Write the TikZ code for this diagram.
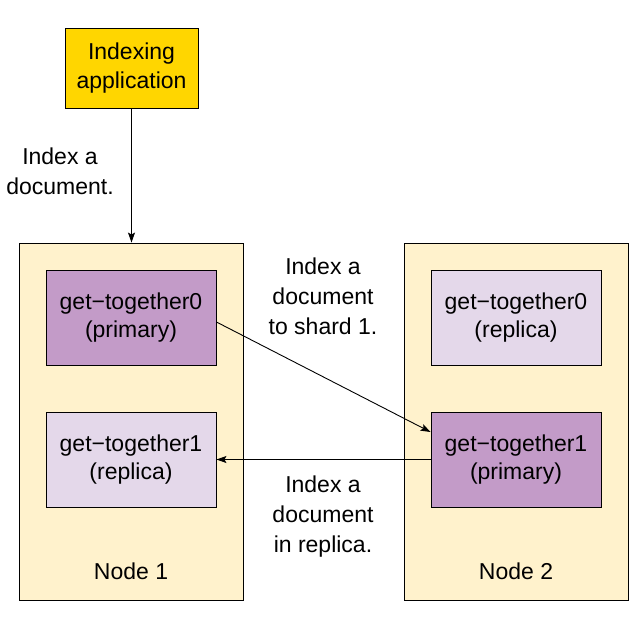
\documentclass[tikz,border=0pt]{standalone}
\usepackage{fontspec}
\setmainfont{Liberation Sans}
\usetikzlibrary{arrows.meta}
\definecolor{appyellow}{RGB}{255,214,0}
\definecolor{nodefill}{RGB}{255,242,204}
\definecolor{primfill}{RGB}{195,155,200}
\definecolor{repfill}{RGB}{228,216,234}
\tikzset{
  every node/.style={font=\fontsize{23}{27.5}\selectfont, align=center, inner sep=0pt},
  labeltext/.style={font=\fontsize{23}{30}\selectfont},
  box/.style={draw=black, line width=0.9pt},
  appbox/.style={box, fill=appyellow, minimum width=133pt, minimum height=80pt, font=\fontsize{23}{29}\selectfont},
  clusterbox/.style={box, fill=nodefill, minimum width=224pt, minimum height=357pt},
  primbox/.style={box, fill=primfill, minimum width=170pt, minimum height=95pt},
  repbox/.style={box, fill=repfill, minimum width=170pt, minimum height=95pt},
  conn/.style={line width=0.9pt, -{Stealth[length=10pt,width=7pt,inset=2pt]}},
}
\begin{document}
\begin{tikzpicture}[x=1pt,y=-1pt]
\useasboundingbox (0,0) rectangle (641,622);
\node[appbox] (app) at (131.5,68) {Indexing\\application};
\node[clusterbox] (n1) at (131,421.5) {};
\node[clusterbox] (n2) at (516,421.5) {};
\node[primbox] (g0p) at (131,317.5) {get\textminus together0\\(primary)};
\node[repbox] (g1r) at (131,459.5) {get\textminus together1\\(replica)};
\node[repbox] (g0r) at (516,317.5) {get\textminus together0\\(replica)};
\node[primbox] (g1p) at (516,459.5) {get\textminus together1\\(primary)};
\node (l1) at (131,571) {Node 1};
\node (l2) at (516,571) {Node 2};
\node[labeltext] (t1) at (60,171) {Index a\\document.};
\node[labeltext] (t2) at (323,296) {Index a\\document\\to shard 1.};
\node[labeltext] (t3) at (323,517) {Index a\\document\\in replica.};
\draw[conn] (app.south) -- (app.south |- n1.north);
\draw[conn] ([yshift=-4.5pt]g0p.east) -- ([yshift=27.5pt]g1p.west);
\draw[conn] (g1p.west) -- (g1r.east);
\end{tikzpicture}
\end{document}
